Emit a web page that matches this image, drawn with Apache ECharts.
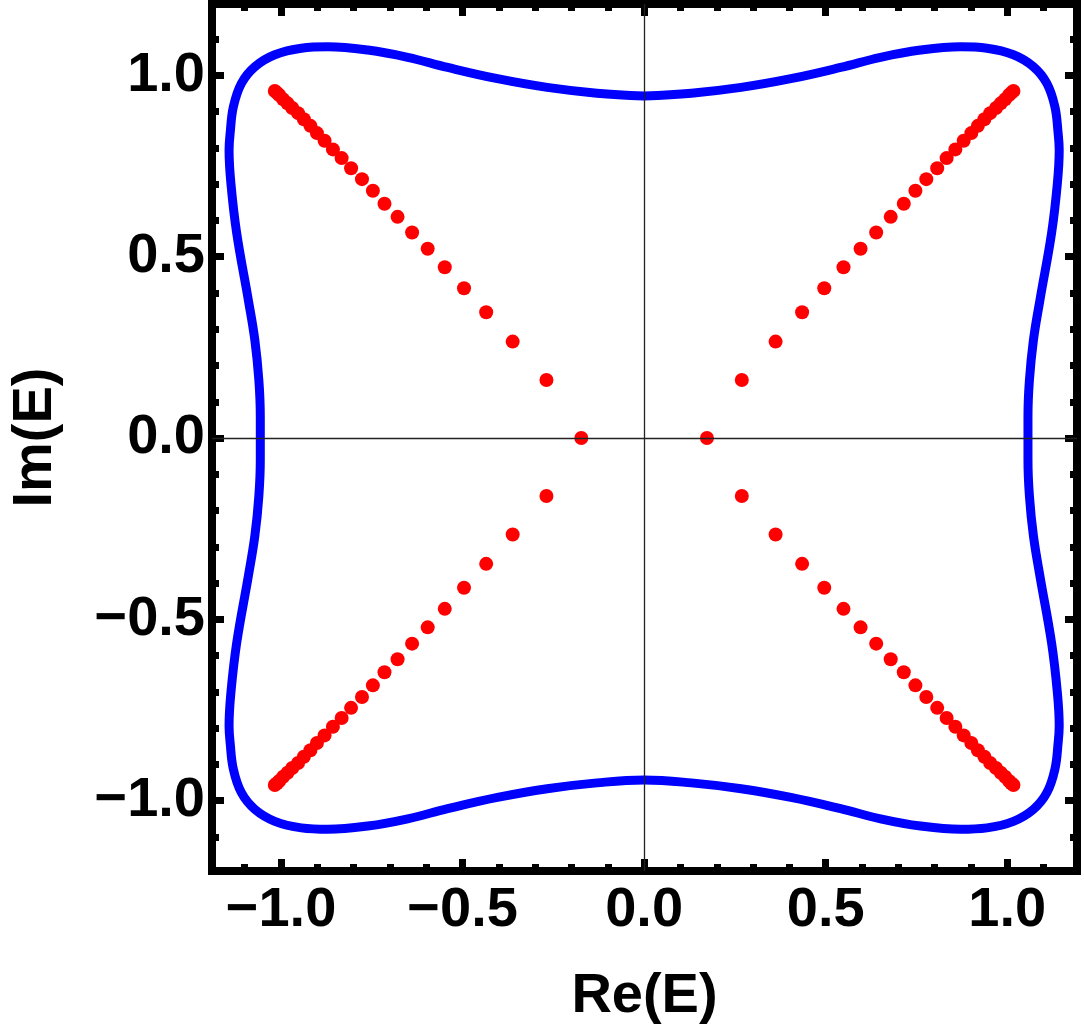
<!DOCTYPE html>
<html>
<head>
<meta charset="utf-8">
<script src="https://cdn.jsdelivr.net/npm/echarts@6/dist/echarts.min.js"></script>
<style>
  html, body { margin: 0; padding: 0; background: #fff; }
  #chart { width: 1084px; height: 1030px; }
</style>
</head>
<body>
<div id="chart"></div>
<script>
// ---- data: [Re(E), Im(E)] ----

// red eigenvalue dots, one list per quadrant
const dotsUpperRight = [
  [0.269, 0.160], [0.362, 0.266], [0.435, 0.347], [0.496, 0.413], [0.549, 0.471],
  [0.596, 0.522], [0.639, 0.567], [0.679, 0.610], [0.715, 0.646], [0.747, 0.682],
  [0.777, 0.714], [0.807, 0.744], [0.833, 0.772], [0.857, 0.796], [0.880, 0.820],
  [0.901, 0.841], [0.919, 0.861], [0.937, 0.879], [0.953, 0.896], [0.969, 0.910],
  [0.982, 0.923], [0.994, 0.934], [1.005, 0.946], [1.011, 0.952], [1.017, 0.957]
];
const dotsUpperLeft = [
  [-0.269, 0.160], [-0.362, 0.266], [-0.435, 0.347], [-0.496, 0.413], [-0.549, 0.471],
  [-0.596, 0.522], [-0.639, 0.567], [-0.679, 0.610], [-0.715, 0.646], [-0.747, 0.682],
  [-0.777, 0.714], [-0.807, 0.744], [-0.833, 0.772], [-0.857, 0.796], [-0.880, 0.820],
  [-0.901, 0.841], [-0.919, 0.861], [-0.937, 0.879], [-0.953, 0.896], [-0.969, 0.910],
  [-0.982, 0.923], [-0.994, 0.934], [-1.005, 0.946], [-1.011, 0.952], [-1.017, 0.957]
];
const dotsLowerLeft = [
  [-0.269, -0.160], [-0.362, -0.266], [-0.435, -0.347], [-0.496, -0.413], [-0.549, -0.471],
  [-0.596, -0.522], [-0.639, -0.567], [-0.679, -0.610], [-0.715, -0.646], [-0.747, -0.682],
  [-0.777, -0.714], [-0.807, -0.744], [-0.833, -0.772], [-0.857, -0.796], [-0.880, -0.820],
  [-0.901, -0.841], [-0.919, -0.861], [-0.937, -0.879], [-0.953, -0.896], [-0.969, -0.910],
  [-0.982, -0.923], [-0.994, -0.934], [-1.005, -0.946], [-1.011, -0.952], [-1.017, -0.957]
];
const dotsLowerRight = [
  [0.269, -0.160], [0.362, -0.266], [0.435, -0.347], [0.496, -0.413], [0.549, -0.471],
  [0.596, -0.522], [0.639, -0.567], [0.679, -0.610], [0.715, -0.646], [0.747, -0.682],
  [0.777, -0.714], [0.807, -0.744], [0.833, -0.772], [0.857, -0.796], [0.880, -0.820],
  [0.901, -0.841], [0.919, -0.861], [0.937, -0.879], [0.953, -0.896], [0.969, -0.910],
  [0.982, -0.923], [0.994, -0.934], [1.005, -0.946], [1.011, -0.952], [1.017, -0.957]
];
const dotsRealAxis = [[0.173, 0], [-0.173, 0]];

// blue spectrum loop, walked clockwise from the top
const curveQ1 = [
  [0.000, 0.943], [0.130, 0.951], [0.267, 0.967], [0.404, 0.991], [0.541, 1.022],
  [0.651, 1.050], [0.761, 1.070], [0.871, 1.079], [0.944, 1.075], [1.017, 1.057],
  [1.072, 1.024], [1.109, 0.978], [1.131, 0.914], [1.140, 0.841], [1.143, 0.794],
  [1.138, 0.703], [1.122, 0.565], [1.090, 0.381], [1.072, 0.270], [1.061, 0.160],
  [1.057, 0.059]
];
const curveQ4 = [
  [1.057, 0.000], [1.057, -0.059], [1.061, -0.160], [1.072, -0.270], [1.090, -0.381],
  [1.122, -0.565], [1.138, -0.703], [1.143, -0.794], [1.140, -0.841], [1.131, -0.914],
  [1.109, -0.978], [1.072, -1.024], [1.017, -1.057], [0.944, -1.075], [0.871, -1.079],
  [0.761, -1.070], [0.651, -1.050], [0.541, -1.022], [0.404, -0.991], [0.267, -0.967],
  [0.130, -0.951]
];
const curveQ3 = [
  [0.000, -0.943], [-0.130, -0.951], [-0.267, -0.967], [-0.404, -0.991], [-0.541, -1.022],
  [-0.651, -1.050], [-0.761, -1.070], [-0.871, -1.079], [-0.944, -1.075], [-1.017, -1.057],
  [-1.072, -1.024], [-1.109, -0.978], [-1.131, -0.914], [-1.140, -0.841], [-1.143, -0.794],
  [-1.138, -0.703], [-1.122, -0.565], [-1.090, -0.381], [-1.072, -0.270], [-1.061, -0.160],
  [-1.057, -0.059]
];
const curveQ2 = [
  [-1.057, 0.000], [-1.057, 0.059], [-1.061, 0.160], [-1.072, 0.270], [-1.090, 0.381],
  [-1.122, 0.565], [-1.138, 0.703], [-1.143, 0.794], [-1.140, 0.841], [-1.131, 0.914],
  [-1.109, 0.978], [-1.072, 1.024], [-1.017, 1.057], [-0.944, 1.075], [-0.871, 1.079],
  [-0.761, 1.070], [-0.651, 1.050], [-0.541, 1.022], [-0.404, 0.991], [-0.267, 0.967],
  [-0.130, 0.951], [0.000, 0.943]
];

// ticks
const xMajorTicks = [-1, -0.5, 0, 0.5, 1];
const xMinorTicks = [-1.1, -0.9, -0.8, -0.7, -0.6, -0.4, -0.3, -0.2, -0.1,
                     0.1, 0.2, 0.3, 0.4, 0.6, 0.7, 0.8, 0.9, 1.1];
const yMajorTicks = [-1, -0.5, 0, 0.5, 1];
const yMinorTicks = [-1.1, -0.9, -0.8, -0.7, -0.6, -0.4, -0.3, -0.2, -0.1,
                     0.1, 0.2, 0.3, 0.4, 0.6, 0.7, 0.8, 0.9, 1.1];

const xRange = [-1.19, 1.192];
const yRange = [-1.194, 1.197];

// ---- chart ----
const FONT = '"Liberation Sans", Arial, sans-serif';
const fmt = v => (v < 0 ? '\u2212' : '') + Math.abs(v).toFixed(1);

//一根轴：只画刻度（内向），可选标签
function makeAxis(pos, range, ticks, len, withLabels, extra) {
  return Object.assign({
    type: 'value',
    position: pos,
    min: range[0],
    max: range[1],
    axisLine: { show: false, onZero: false },
    splitLine: { show: false },
    axisTick: {
      show: true,
      inside: true,
      length: len,
      customValues: ticks,
      lineStyle: { color: '#000', width: 7 }
    },
    axisLabel: withLabels ? {
      show: true,
      customValues: ticks,
      formatter: fmt,
      color: '#000',
      fontFamily: FONT,
      fontWeight: 'bold',
      fontSize: 56
    } : { show: false }
  }, extra || {});
}

const chart = echarts.init(document.getElementById('chart'), null, { renderer: 'canvas' });

chart.setOption({
  animation: false,
  backgroundColor: '#fff',
  grid: {
    left: 209, right: 7, top: 4, bottom: 159,
    show: true,
    borderColor: '#000',
    borderWidth: 8,
    backgroundColor: 'transparent'
  },
  xAxis: [
    makeAxis('bottom', xRange, xMajorTicks, 12, true, {
      name: 'Re(E)',
      nameLocation: 'middle',
      nameGap: 98,
      nameTextStyle: { color: '#000', fontFamily: FONT, fontWeight: 'bold', fontSize: 56 },
      axisLabel: {
        show: true, customValues: xMajorTicks, formatter: fmt, margin: 12,
        color: '#000', fontFamily: FONT, fontWeight: 'bold', fontSize: 56
      }
    }),
    makeAxis('bottom', xRange, xMinorTicks, 7, false),
    makeAxis('top', xRange, xMajorTicks, 12, false),
    makeAxis('top', xRange, xMinorTicks, 7, false)
  ],
  yAxis: [
    makeAxis('left', yRange, yMajorTicks, 12, true, {
      name: 'Im(E)',
      nameLocation: 'middle',
      nameGap: 148,
      nameTextStyle: { color: '#000', fontFamily: FONT, fontWeight: 'bold', fontSize: 56 },
      axisLabel: {
        show: true, customValues: yMajorTicks, formatter: fmt, margin: 7,
        color: '#000', fontFamily: FONT, fontWeight: 'bold', fontSize: 56
      }
    }),
    makeAxis('left', yRange, yMinorTicks, 7, false),
    makeAxis('right', yRange, yMajorTicks, 12, false),
    makeAxis('right', yRange, yMinorTicks, 7, false)
  ],
  series: [
    {
      type: 'line',
      data: [].concat(curveQ1, curveQ4, curveQ3, curveQ2),
      smooth: 0.4,
      showSymbol: false,
      lineStyle: { color: '#0000ff', width: 9, cap: 'round', join: 'round' },
      z: 2
    },
    {
      type: 'scatter',
      data: [].concat(dotsUpperRight, dotsUpperLeft, dotsLowerLeft, dotsLowerRight, dotsRealAxis),
      symbol: 'circle',
      symbolSize: 14,
      itemStyle: { color: '#ff0000', opacity: 1 },
      z: 3
    },
    {
      // 坐标原点的细十字线
      type: 'line',
      data: [],
      z: 5,
      markLine: {
        silent: true,
        symbol: ['none', 'none'],
        label: { show: false },
        lineStyle: { color: '#222', width: 1.3, type: 'solid' },
        data: [{ xAxis: 0 }, { yAxis: 0 }]
      }
    }
  ]
});
</script>
</body>
</html>
